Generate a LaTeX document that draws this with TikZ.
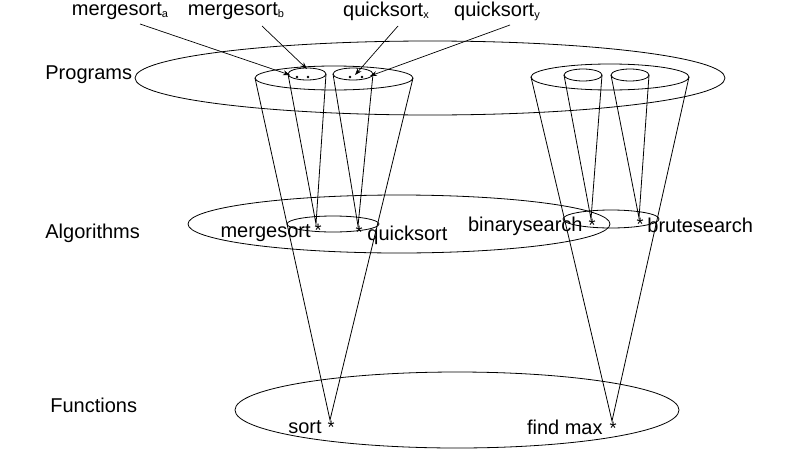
\documentclass[tikz,border=0pt]{standalone}
\usepackage{fontspec}
\setmainfont{Liberation Sans}
\usetikzlibrary{arrows.meta}
\begin{document}
\begin{tikzpicture}[x=1pt,y=-1pt,line width=0.8pt,
  lbl/.style={font=\fontsize{20}{22}\selectfont,inner sep=0pt},
  st/.style={font=\fontsize{18}{20}\selectfont,inner sep=0pt},
  arr/.style={-{Stealth[length=7pt,width=5pt]},line width=0.7pt},
  dotn/.style={circle,fill,inner sep=0.9pt}]
\useasboundingbox (0,0) rectangle (800,450);
% ellipses
\draw (430,78) ellipse [x radius=295,y radius=37];
\draw (334,78) ellipse [x radius=79,y radius=12];
\draw (307,74) ellipse [x radius=19,y radius=6];
\draw (353,74) ellipse [x radius=20,y radius=6];
\draw (610,77) ellipse [x radius=79,y radius=13];
\draw (583,75) ellipse [x radius=19,y radius=6];
\draw (630,75) ellipse [x radius=19,y radius=6];
\draw (399,224) ellipse [x radius=211,y radius=29];
\draw (333,224) ellipse [x radius=46,y radius=8];
\draw (611,219) ellipse [x radius=48,y radius=9];
\draw (457,410) ellipse [x radius=222,y radius=38];
% stars
\node[st] (s1) at (318,230) {*};
\node[st] (s2) at (359,232) {*};
\node[st] (s3) at (592,225) {*};
\node[st] (s4) at (640,224) {*};
\node[st] (sf) at (331,427) {*};
\node[st] (sm) at (613,428) {*};
\coordinate (c1) at (316,224);
\coordinate (c2) at (358,226);
\coordinate (c3) at (591,219);
\coordinate (c4) at (639,218);
\coordinate (cf) at (330,420);
\coordinate (cm) at (612,421);
% cones
\coordinate (pl1) at (255,78); \coordinate (pl2) at (413,78);
\coordinate (pr1) at (531,77); \coordinate (pr2) at (689,77);
\draw (pl1) -- (cf) -- (pl2);
\draw (pr1) -- (cm) -- (pr2);
\coordinate (a1) at (288,74); \coordinate (a2) at (326,74);
\coordinate (b1) at (333,74); \coordinate (b2) at (373,74);
\coordinate (e1) at (564,75); \coordinate (e2) at (602,75);
\coordinate (f1) at (611,75); \coordinate (f2) at (649,75);
\draw (a1) -- (c1) -- (a2);
\draw (b1) -- (c2) -- (b2);
\draw (e1) -- (c3) -- (e2);
\draw (f1) -- (c4) -- (f2);
% dots
\node[dotn] (d1) at (297,77) {};
\node[dotn] (d2) at (308,77) {};
\node[dotn] (d3) at (350,77) {};
\node[dotn] (d4) at (362,77) {};
% labels
\node[lbl,anchor=west] (lp) at (45,75) {Programs};
\node[lbl,anchor=west] (la) at (45,233) {Algorithms};
\node[lbl,anchor=west] (lf) at (50,405) {Functions};
\node[lbl,anchor=east] (tm) at (311,233) {mergesort};
\node[lbl,anchor=west] (tq) at (367,235) {quicksort};
\node[lbl,anchor=east] (tb) at (583,226) {binarysearch};
\node[lbl,anchor=west] (tbr) at (647,225) {brutesearch};
\node[lbl,anchor=east] (ts) at (322,427) {sort};
\node[lbl,anchor=east] (tfm) at (603,427) {find max};
% top labels
\node[lbl] (ma) at (120,11) {mergesort{\fontsize{11}{11}\selectfont\raisebox{-2pt}{a}}};
\node[lbl] (mb) at (236,11) {mergesort{\fontsize{11}{11}\selectfont\raisebox{-2pt}{b}}};
\node[lbl] (qx) at (386,11) {quicksort{\fontsize{11}{11}\selectfont\raisebox{-2pt}{x}}};
\node[lbl] (qy) at (497,11) {quicksort{\fontsize{11}{11}\selectfont\raisebox{-2pt}{y}}};
\coordinate (ea) at (290,75); \coordinate (eb) at (307,69);
\coordinate (ex) at (355,75); \coordinate (ey) at (370,76);
\draw[arr] (140,24) -- (ea);
\draw[arr] (262,26) -- (eb);
\draw[arr] (398,26) -- (ex);
\draw[arr] (510,25) -- (ey);
\end{tikzpicture}
\end{document}
